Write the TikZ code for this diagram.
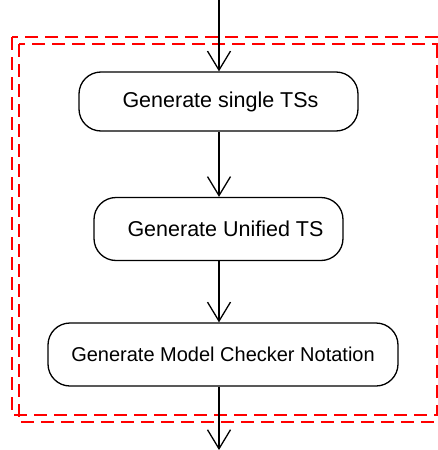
\documentclass[tikz,border=0pt]{standalone}
\usepackage{fontspec}
\setmainfont{Liberation Sans}
\usetikzlibrary{arrows.meta}
\begin{document}
\begin{tikzpicture}[x=1pt,y=-1pt,
  stepbox/.style={draw=black,line width=1.3pt,rounded corners=22pt,align=center,inner sep=0pt,font=\fontsize{20}{24}\selectfont},
  bigtext/.style={font=\fontsize{21.5}{25}\selectfont},
  flow/.style={draw=black,line width=1.3pt,-{Straight Barb[length=19pt,width=23pt,line width=1.3pt]}},
  frame/.style={draw=red,line width=1.1pt,dash pattern=on 13pt off 7pt}]
\useasboundingbox (0,0) rectangle (438,450);
\draw[frame] (12,37) rectangle (437,415);
\draw[frame] (19,44) rectangle (444,422);
\node[stepbox,bigtext,minimum width=279pt,minimum height=59pt] (a) at (218.5,101.5) {\hspace*{4pt}Generate single TSs};
\node[stepbox,bigtext,minimum width=249pt,minimum height=63pt] (b) at (218.5,229) {\hspace*{14pt}Generate Unified TS};
\node[stepbox,minimum width=350pt,minimum height=63pt] (c) at (223,354.5) {Generate Model Checker Notation};
\coordinate (top) at (219,0);
\coordinate (bot) at (219,450);
\draw[flow] (top) -- (a.north -| top);
\draw[flow] (a.south -| top) -- (b.north -| top);
\draw[flow] (b.south -| top) -- (c.north -| top);
\draw[flow] (c.south -| top) -- (bot);
\end{tikzpicture}
\end{document}
